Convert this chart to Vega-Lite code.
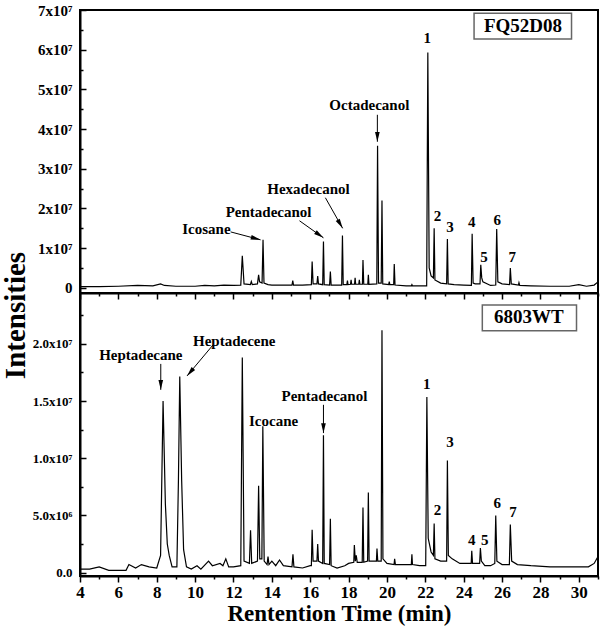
{
  "$schema": "https://vega.github.io/schema/vega-lite/v6.json",
  "padding": {"left": 0, "top": 2, "right": 2, "bottom": 0},
  "background": "white",
  "config": {
    "view": {"stroke": "black", "strokeWidth": 2},
    "font": "Liberation Serif",
    "axis": {
      "labelFont": "Liberation Serif", "labelFontWeight": "bold", "labelColor": "black",
      "titleFont": "Liberation Serif", "titleFontWeight": "bold", "titleColor": "black",
      "domainColor": "black", "domainWidth": 2, "tickColor": "black", "tickWidth": 1.5,
      "grid": false, "labelOverlap": false, "labelFlush": false
    },
    "text": {"font": "Liberation Serif", "fontWeight": "bold", "color": "black"}
  },
  "datasets": {
    "fq": [
      {"t": 4.0, "v": 0.03e7}, {"t": 5.0, "v": 0.03e7}, {"t": 6.0, "v": 0.04e7}, {"t": 7.0, "v": 0.06e7},
      {"t": 7.8, "v": 0.05e7}, {"t": 8.2, "v": 0.1e7}, {"t": 8.4, "v": 0.06e7}, {"t": 9.0, "v": 0.04e7},
      {"t": 10.0, "v": 0.04e7}, {"t": 10.5, "v": 0.06e7}, {"t": 11.0, "v": 0.05e7}, {"t": 11.5, "v": 0.07e7},
      {"t": 12.0, "v": 0.06e7}, {"t": 12.38, "v": 0.07e7}, {"t": 12.46, "v": 0.81e7}, {"t": 12.55, "v": 0.1e7},
      {"t": 12.88, "v": 0.08e7}, {"t": 12.93, "v": 0.16e7}, {"t": 12.98, "v": 0.08e7}, {"t": 13.25, "v": 0.1e7},
      {"t": 13.31, "v": 0.33e7}, {"t": 13.36, "v": 0.15e7}, {"t": 13.49, "v": 0.12e7}, {"t": 13.54, "v": 1.21e7},
      {"t": 13.59, "v": 0.12e7}, {"t": 13.8, "v": 0.08e7}, {"t": 14.0, "v": 0.07e7}, {"t": 14.5, "v": 0.07e7},
      {"t": 15.05, "v": 0.07e7}, {"t": 15.09, "v": 0.18e7}, {"t": 15.13, "v": 0.07e7}, {"t": 15.6, "v": 0.07e7},
      {"t": 16.06, "v": 0.08e7}, {"t": 16.1, "v": 0.66e7}, {"t": 16.15, "v": 0.1e7}, {"t": 16.35, "v": 0.1e7},
      {"t": 16.39, "v": 0.3e7}, {"t": 16.43, "v": 0.1e7}, {"t": 16.65, "v": 0.08e7}, {"t": 16.69, "v": 1.17e7},
      {"t": 16.73, "v": 0.08e7}, {"t": 17.01, "v": 0.07e7}, {"t": 17.05, "v": 0.41e7}, {"t": 17.09, "v": 0.07e7},
      {"t": 17.4, "v": 0.07e7}, {"t": 17.64, "v": 0.07e7}, {"t": 17.68, "v": 1.32e7}, {"t": 17.72, "v": 0.08e7},
      {"t": 17.91, "v": 0.08e7}, {"t": 17.94, "v": 0.18e7}, {"t": 17.97, "v": 0.08e7}, {"t": 18.1, "v": 0.09e7},
      {"t": 18.13, "v": 0.2e7}, {"t": 18.16, "v": 0.09e7}, {"t": 18.31, "v": 0.09e7}, {"t": 18.34, "v": 0.25e7},
      {"t": 18.37, "v": 0.09e7}, {"t": 18.53, "v": 0.09e7}, {"t": 18.56, "v": 0.2e7}, {"t": 18.59, "v": 0.09e7},
      {"t": 18.72, "v": 0.09e7}, {"t": 18.75, "v": 0.7e7}, {"t": 18.79, "v": 0.09e7}, {"t": 19.0, "v": 0.09e7},
      {"t": 19.03, "v": 0.33e7}, {"t": 19.06, "v": 0.09e7}, {"t": 19.47, "v": 0.1e7}, {"t": 19.51, "v": 3.58e7},
      {"t": 19.56, "v": 0.12e7}, {"t": 19.7, "v": 0.12e7}, {"t": 19.74, "v": 2.2e7}, {"t": 19.78, "v": 0.1e7},
      {"t": 20.09, "v": 0.08e7}, {"t": 20.12, "v": 0.16e7}, {"t": 20.15, "v": 0.08e7}, {"t": 20.35, "v": 0.08e7},
      {"t": 20.38, "v": 0.6e7}, {"t": 20.42, "v": 0.07e7}, {"t": 21.0, "v": 0.05e7}, {"t": 21.27, "v": 0.05e7},
      {"t": 21.3, "v": 0.08e7}, {"t": 21.33, "v": 0.05e7}, {"t": 22.07, "v": 0.05e7}, {"t": 22.13, "v": 5.93e7},
      {"t": 22.2, "v": 0.5e7}, {"t": 22.3, "v": 0.3e7}, {"t": 22.42, "v": 0.25e7}, {"t": 22.46, "v": 1.5e7},
      {"t": 22.5, "v": 0.2e7}, {"t": 22.8, "v": 0.12e7}, {"t": 23.11, "v": 0.1e7}, {"t": 23.15, "v": 1.23e7},
      {"t": 23.19, "v": 0.1e7}, {"t": 23.5, "v": 0.08e7}, {"t": 24.0, "v": 0.07e7}, {"t": 24.4, "v": 0.06e7},
      {"t": 24.44, "v": 1.36e7}, {"t": 24.49, "v": 0.12e7}, {"t": 24.6, "v": 0.1e7}, {"t": 24.85, "v": 0.1e7},
      {"t": 24.89, "v": 0.58e7}, {"t": 24.94, "v": 0.25e7}, {"t": 25.0, "v": 0.15e7}, {"t": 25.4, "v": 0.06e7},
      {"t": 25.67, "v": 0.07e7}, {"t": 25.72, "v": 1.48e7}, {"t": 25.78, "v": 0.15e7}, {"t": 26.0, "v": 0.1e7},
      {"t": 26.39, "v": 0.08e7}, {"t": 26.43, "v": 0.5e7}, {"t": 26.48, "v": 0.1e7}, {"t": 26.85, "v": 0.07e7},
      {"t": 26.88, "v": 0.13e7}, {"t": 26.92, "v": 0.06e7}, {"t": 27.5, "v": 0.05e7}, {"t": 28.5, "v": 0.04e7},
      {"t": 29.5, "v": 0.04e7}, {"t": 30.0, "v": 0.08e7}, {"t": 30.4, "v": 0.04e7}, {"t": 30.8, "v": 0.07e7},
      {"t": 31.0, "v": 0.15e7}
    ],
    "wt": [
      {"t": 4.0, "v": 0.03e7}, {"t": 4.5, "v": 0.03e7}, {"t": 5.0, "v": 0.05e7}, {"t": 5.5, "v": 0.02e7},
      {"t": 6.4, "v": 0.02e7}, {"t": 6.55, "v": 0.07e7}, {"t": 6.9, "v": 0.04e7}, {"t": 7.2, "v": 0.07e7},
      {"t": 7.6, "v": 0.05e7}, {"t": 8.0, "v": 0.04e7}, {"t": 8.2, "v": 0.15e7}, {"t": 8.33, "v": 1.5e7},
      {"t": 8.45, "v": 0.6e7}, {"t": 8.55, "v": 0.25e7}, {"t": 8.65, "v": 0.15e7}, {"t": 8.8, "v": 0.05e7},
      {"t": 9.05, "v": 0.05e7}, {"t": 9.13, "v": 0.8e7}, {"t": 9.2, "v": 1.715e7}, {"t": 9.3, "v": 0.8e7},
      {"t": 9.4, "v": 0.2e7}, {"t": 9.55, "v": 0.05e7}, {"t": 9.8, "v": 0.03e7}, {"t": 10.1, "v": 0.06e7},
      {"t": 10.3, "v": 0.03e7}, {"t": 10.7, "v": 0.1e7}, {"t": 10.9, "v": 0.06e7}, {"t": 11.3, "v": 0.08e7},
      {"t": 11.45, "v": 0.06e7}, {"t": 11.6, "v": 0.12e7}, {"t": 11.75, "v": 0.05e7}, {"t": 12.0, "v": 0.05e7},
      {"t": 12.38, "v": 0.06e7}, {"t": 12.46, "v": 1.88e7}, {"t": 12.55, "v": 0.1e7}, {"t": 12.83, "v": 0.08e7},
      {"t": 12.89, "v": 0.37e7}, {"t": 12.95, "v": 0.08e7}, {"t": 13.25, "v": 0.1e7}, {"t": 13.31, "v": 0.76e7},
      {"t": 13.37, "v": 0.12e7}, {"t": 13.48, "v": 0.12e7}, {"t": 13.53, "v": 1.28e7}, {"t": 13.6, "v": 0.1e7},
      {"t": 13.75, "v": 0.07e7}, {"t": 13.8, "v": 0.14e7}, {"t": 13.85, "v": 0.07e7}, {"t": 14.0, "v": 0.1e7},
      {"t": 14.2, "v": 0.06e7}, {"t": 14.4, "v": 0.11e7}, {"t": 14.6, "v": 0.06e7}, {"t": 15.05, "v": 0.05e7},
      {"t": 15.1, "v": 0.16e7}, {"t": 15.15, "v": 0.05e7}, {"t": 15.6, "v": 0.04e7}, {"t": 16.0, "v": 0.06e7},
      {"t": 16.06, "v": 0.06e7}, {"t": 16.1, "v": 0.375e7}, {"t": 16.15, "v": 0.1e7}, {"t": 16.35, "v": 0.1e7},
      {"t": 16.39, "v": 0.25e7}, {"t": 16.43, "v": 0.1e7}, {"t": 16.65, "v": 0.08e7}, {"t": 16.69, "v": 1.2e7},
      {"t": 16.73, "v": 0.08e7}, {"t": 17.01, "v": 0.07e7}, {"t": 17.05, "v": 0.47e7}, {"t": 17.09, "v": 0.06e7},
      {"t": 17.4, "v": 0.04e7}, {"t": 17.8, "v": 0.06e7}, {"t": 18.0, "v": 0.08e7}, {"t": 18.27, "v": 0.09e7},
      {"t": 18.3, "v": 0.24e7}, {"t": 18.35, "v": 0.1e7}, {"t": 18.4, "v": 0.15e7}, {"t": 18.45, "v": 0.09e7},
      {"t": 18.71, "v": 0.09e7}, {"t": 18.75, "v": 0.57e7}, {"t": 18.79, "v": 0.09e7}, {"t": 18.99, "v": 0.1e7},
      {"t": 19.03, "v": 0.7e7}, {"t": 19.07, "v": 0.1e7}, {"t": 19.45, "v": 0.1e7}, {"t": 19.48, "v": 0.21e7},
      {"t": 19.52, "v": 0.1e7}, {"t": 19.7, "v": 0.1e7}, {"t": 19.74, "v": 2.12e7}, {"t": 19.79, "v": 0.12e7},
      {"t": 20.0, "v": 0.08e7}, {"t": 20.37, "v": 0.07e7}, {"t": 20.4, "v": 0.12e7}, {"t": 20.44, "v": 0.07e7},
      {"t": 20.9, "v": 0.07e7}, {"t": 21.27, "v": 0.07e7}, {"t": 21.3, "v": 0.16e7}, {"t": 21.33, "v": 0.07e7},
      {"t": 21.7, "v": 0.06e7}, {"t": 22.02, "v": 0.06e7}, {"t": 22.08, "v": 1.535e7}, {"t": 22.15, "v": 0.3e7},
      {"t": 22.3, "v": 0.18e7}, {"t": 22.42, "v": 0.15e7}, {"t": 22.46, "v": 0.43e7}, {"t": 22.5, "v": 0.12e7},
      {"t": 22.8, "v": 0.1e7}, {"t": 23.11, "v": 0.1e7}, {"t": 23.15, "v": 0.98e7}, {"t": 23.2, "v": 0.15e7},
      {"t": 23.4, "v": 0.12e7}, {"t": 23.8, "v": 0.08e7}, {"t": 24.2, "v": 0.08e7}, {"t": 24.39, "v": 0.08e7},
      {"t": 24.42, "v": 0.19e7}, {"t": 24.46, "v": 0.08e7}, {"t": 24.83, "v": 0.08e7}, {"t": 24.87, "v": 0.215e7},
      {"t": 24.92, "v": 0.1e7}, {"t": 25.1, "v": 0.06e7}, {"t": 25.4, "v": 0.06e7}, {"t": 25.62, "v": 0.08e7},
      {"t": 25.67, "v": 0.5e7}, {"t": 25.73, "v": 0.1e7}, {"t": 26.0, "v": 0.07e7}, {"t": 26.38, "v": 0.07e7},
      {"t": 26.43, "v": 0.42e7}, {"t": 26.5, "v": 0.1e7}, {"t": 26.8, "v": 0.07e7}, {"t": 27.5, "v": 0.06e7},
      {"t": 28.5, "v": 0.05e7}, {"t": 29.5, "v": 0.05e7}, {"t": 30.5, "v": 0.05e7}, {"t": 30.8, "v": 0.08e7},
      {"t": 31.0, "v": 0.14e7}
    ],
    "fq_names": [
      {"label": "Octadecanol", "t": 19.08, "v": 4.61e7},
      {"label": "Hexadecanol", "t": 15.91, "v": 2.49e7},
      {"label": "Pentadecanol", "t": 13.83, "v": 1.92e7},
      {"label": "Icosane", "t": 10.59, "v": 1.48e7}
    ],
    "fq_nums": [
      {"label": "1", "t": 22.10, "v": 6.30e7},
      {"label": "2", "t": 22.63, "v": 1.80e7},
      {"label": "3", "t": 23.28, "v": 1.54e7},
      {"label": "4", "t": 24.42, "v": 1.67e7},
      {"label": "5", "t": 25.06, "v": 0.78e7},
      {"label": "6", "t": 25.75, "v": 1.70e7},
      {"label": "7", "t": 26.53, "v": 0.78e7}
    ],
    "fq_arrows": [
      {"t": 19.50, "v": 3.68e7, "t2": 19.50, "v2": 4.36e7, "heading": 180},
      {"t": 17.69, "v": 1.50e7, "t2": 16.79, "v2": 2.27e7, "heading": 150},
      {"t": 16.69, "v": 1.26e7, "t2": 15.44, "v2": 1.69e7, "heading": 125},
      {"t": 13.41, "v": 1.21e7, "t2": 11.85, "v2": 1.41e7, "heading": 105}
    ],
    "fq_box": [{"t": 24.54, "t2": 29.62, "v": 6.92e7, "v2": 6.27e7}],
    "fq_title": [{"label": "FQ52D08", "t": 27.09, "v": 6.59e7}],
    "wt_names": [
      {"label": "Heptadecane", "t": 7.17, "v": 1.904e7},
      {"label": "Heptadecene", "t": 12.04, "v": 2.026e7},
      {"label": "Icocane", "t": 14.09, "v": 1.328e7},
      {"label": "Pentadecanol", "t": 16.74, "v": 1.548e7}
    ],
    "wt_nums": [
      {"label": "1", "t": 22.08, "v": 1.65e7},
      {"label": "2", "t": 22.63, "v": 0.55e7},
      {"label": "3", "t": 23.28, "v": 1.14e7},
      {"label": "4", "t": 24.42, "v": 0.288e7},
      {"label": "5", "t": 25.10, "v": 0.288e7},
      {"label": "6", "t": 25.75, "v": 0.609e7},
      {"label": "7", "t": 26.57, "v": 0.53e7}
    ],
    "wt_arrows": [
      {"t": 8.21, "v": 1.598e7, "t2": 8.21, "v2": 1.825e7, "heading": 180},
      {"t": 9.58, "v": 1.72e7, "t2": 10.93, "v2": 1.99e7, "heading": 220},
      {"t": 16.69, "v": 1.22e7, "t2": 16.69, "v2": 1.467e7, "heading": 180}
    ],
    "wt_box": [{"t": 24.97, "t2": 29.88, "v": 2.341e7, "v2": 2.114e7}],
    "wt_title": [{"label": "6803WT", "t": 27.40, "v": 2.236e7}]
  },
  "vconcat": [
    {
      "width": 518, "height": 283,
      "encoding": {
        "x": {"field": "t", "type": "quantitative",
          "scale": {"domain": [4, 31], "nice": false, "zero": false},
          "axis": {"values": [4,5,6,7,8,9,10,11,12,13,14,15,16,17,18,19,20,21,22,23,24,25,26,27,28,29,30,31],
            "labels": false, "title": null,
            "tickSize": {"condition": {"test": "datum.value % 2 === 0", "value": 6}, "value": 3}}},
        "y": {"field": "v", "type": "quantitative",
          "scale": {"domain": [-1300000, 70000000], "nice": false, "zero": false},
          "axis": {"values": [0, 5000000, 10000000, 15000000, 20000000, 25000000, 30000000, 35000000, 40000000, 45000000, 50000000, 55000000, 60000000, 65000000, 70000000],
            "labelExpr": "datum.value === 0 ? '0' : (datum.value % 10000000 === 0 ? (datum.value / 10000000) + 'x10⁷' : '')",
            "labelFontSize": 15, "labelPadding": 14,
            "tickSize": {"condition": {"test": "datum.value % 10000000 === 0", "value": -6}, "value": -3},
            "title": "Intensities", "titleFontSize": 29, "titleAngle": -90,
            "titleX": -65, "titleY": 305, "titleAlign": "center", "titleBaseline": "middle"}}
      },
      "layer": [
        {"data": {"name": "fq"}, "mark": {"type": "line", "color": "black", "strokeWidth": 1.2, "interpolate": "linear"}},
        {"data": {"name": "fq_arrows"}, "mark": {"type": "rule", "color": "black", "strokeWidth": 1},
          "encoding": {"x2": {"field": "t2"}, "y2": {"field": "v2"}}},
        {"data": {"name": "fq_arrows"}, "mark": {"type": "point", "filled": true, "color": "black", "opacity": 1, "size": 150, "shape": "M0,0L-0.38,1.6L0.38,1.6Z"},
          "encoding": {"angle": {"field": "heading", "type": "quantitative", "scale": null}}},
        {"data": {"name": "fq_names"}, "mark": {"type": "text", "fontSize": 15, "align": "center", "baseline": "middle"},
          "encoding": {"text": {"field": "label"}}},
        {"data": {"name": "fq_nums"}, "mark": {"type": "text", "fontSize": 15, "align": "center", "baseline": "middle"},
          "encoding": {"text": {"field": "label"}}},
        {"data": {"name": "fq_box"}, "mark": {"type": "rect", "fill": "white", "stroke": "#666666", "strokeWidth": 1.5},
          "encoding": {"x2": {"field": "t2"}, "y2": {"field": "v2"}}},
        {"data": {"name": "fq_title"}, "mark": {"type": "text", "fontSize": 19, "align": "center", "baseline": "middle"},
          "encoding": {"text": {"field": "label"}}}
      ]
    },
    {
      "width": 518, "height": 283,
      "encoding": {
        "x": {"field": "t", "type": "quantitative",
          "scale": {"domain": [4, 31], "nice": false, "zero": false},
          "axis": {"values": [4,5,6,7,8,9,10,11,12,13,14,15,16,17,18,19,20,21,22,23,24,25,26,27,28,29,30,31],
            "labelExpr": "datum.value % 2 === 0 ? datum.label : ''",
            "labelFontSize": 17, "labelPadding": 2,
            "tickSize": {"condition": {"test": "datum.value % 2 === 0", "value": 6}, "value": 3},
            "title": "Rentention Time (min)", "titleFontSize": 23, "titlePadding": 2}},
        "y": {"field": "v", "type": "quantitative",
          "scale": {"domain": [-300000, 24450000], "nice": false, "zero": false},
          "axis": {"values": [0, 2500000, 5000000, 7500000, 10000000, 12500000, 15000000, 17500000, 20000000, 22500000],
            "labelExpr": "datum.value === 0 ? '0.0' : (datum.value === 5000000 ? '5.0x10⁶' : (datum.value % 5000000 === 0 ? format(datum.value / 10000000, '.1f') + 'x10⁷' : ''))",
            "labelFontSize": 13, "labelPadding": 14,
            "tickSize": {"condition": {"test": "datum.value % 5000000 === 0", "value": -6}, "value": -3},
            "title": null}}
      },
      "layer": [
        {"data": {"name": "wt"}, "mark": {"type": "line", "color": "black", "strokeWidth": 1.2, "interpolate": "linear"}},
        {"data": {"name": "wt_arrows"}, "mark": {"type": "rule", "color": "black", "strokeWidth": 1},
          "encoding": {"x2": {"field": "t2"}, "y2": {"field": "v2"}}},
        {"data": {"name": "wt_arrows"}, "mark": {"type": "point", "filled": true, "color": "black", "opacity": 1, "size": 150, "shape": "M0,0L-0.38,1.6L0.38,1.6Z"},
          "encoding": {"angle": {"field": "heading", "type": "quantitative", "scale": null}}},
        {"data": {"name": "wt_names"}, "mark": {"type": "text", "fontSize": 15, "align": "center", "baseline": "middle"},
          "encoding": {"text": {"field": "label"}}},
        {"data": {"name": "wt_nums"}, "mark": {"type": "text", "fontSize": 15, "align": "center", "baseline": "middle"},
          "encoding": {"text": {"field": "label"}}},
        {"data": {"name": "wt_box"}, "mark": {"type": "rect", "fill": "white", "stroke": "#666666", "strokeWidth": 1.5},
          "encoding": {"x2": {"field": "t2"}, "y2": {"field": "v2"}}},
        {"data": {"name": "wt_title"}, "mark": {"type": "text", "fontSize": 19, "align": "center", "baseline": "middle"},
          "encoding": {"text": {"field": "label"}}}
      ]
    }
  ],
  "spacing": 0,
  "bounds": "flush"
}
